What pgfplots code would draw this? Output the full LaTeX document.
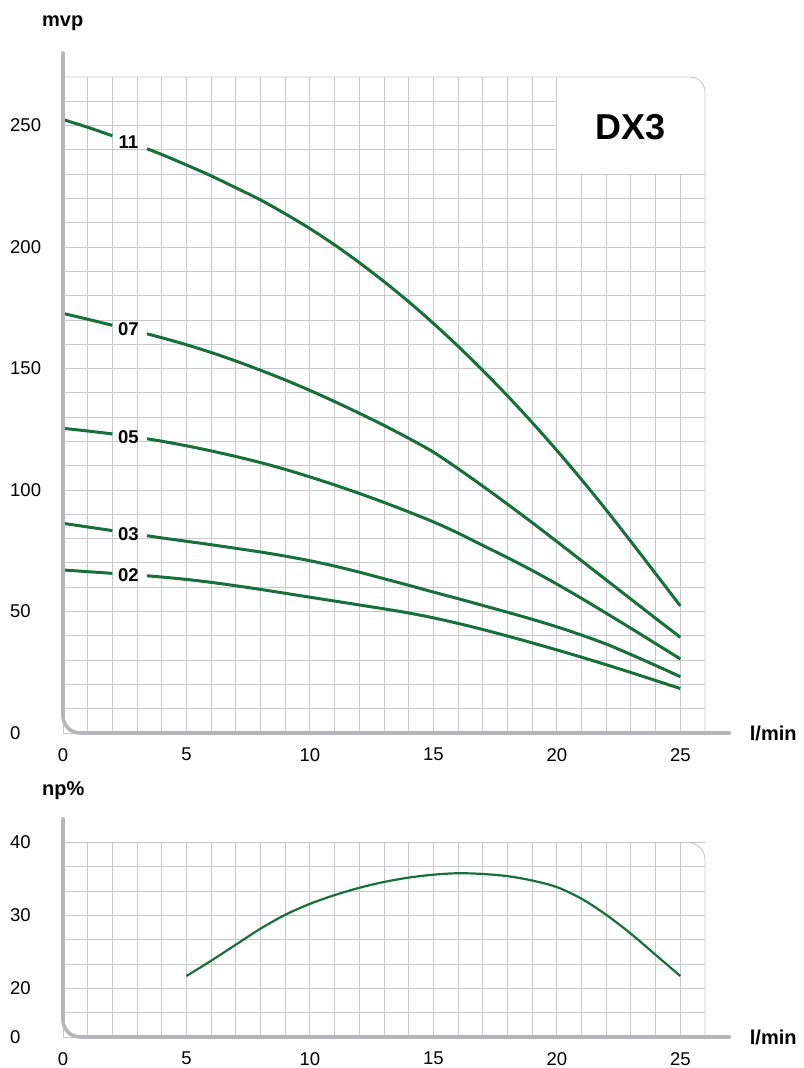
\documentclass[border=0pt]{standalone}
\usepackage{fontspec}
\setmainfont{Liberation Sans}
\usepackage{pgfplots}
\pgfplotsset{compat=1.18}

\definecolor{gridgray}{HTML}{C8C8CC}
\definecolor{axisgray}{HTML}{B6B6BA}
\definecolor{curvegreen}{HTML}{17703A}

\pgfplotsset{
  pumpaxis/.style={
    scale only axis,
    width=642bp,
    xmin=0, xmax=26,
    axis line style={draw=none},
    tick style={draw=none},
    xtick={0,5,...,25},
    minor xtick={1,...,25},
    grid=both,
    major grid style={gridgray, line width=0.9bp},
    minor grid style={gridgray, line width=0.9bp},
    clip=false,
    /pgf/number format/assume math mode=true,
    ticklabel style={font=\fontsize{18.5bp}{20bp}\selectfont, inner sep=0pt},
    xticklabel style={anchor=north, yshift=-15bp},
    yticklabel style={anchor=west, xshift=-53bp},
    unbounded coords=jump,
  },
  curve/.style={curvegreen, line width=3bp, smooth, tension=0.5, no markers},
}
\tikzset{
  curvelabel/.style={font=\bfseries\fontsize{18.5bp}{20bp}\selectfont, inner sep=0pt},
  unitlabel/.style={font=\bfseries\fontsize{20bp}{22bp}\selectfont, inner sep=0pt},
}

\begin{document}
\begin{tikzpicture}
\useasboundingbox (-63bp,-335bp) rectangle (741bp,733bp);

% head curves
\begin{axis}[pumpaxis,
  at={(0,0)}, anchor=south west,
  height=656bp,
  ymin=0, ymax=270,
  ytick={0,50,...,250},
  minor ytick={10,20,...,260},
]
% model 11
\addplot[curve] coordinates {
 (0,252.5) (1,249.3) (2,245.8) (2.7,nan) (3.4,240.5) (4,238.1) (5,233.8) (6,229.3)
 (7,224.4) (8,219.4) (9,213.7) (10,207.6) (11,200.9) (12,193.6) (13,185.8)
 (14,177.5) (15,168.6) (16,159.2) (17,149.2) (18,138.8) (19,127.8) (20,116.3)
 (21,104.3) (22,91.8) (23,78.8) (24,65.6) (25,52.3)
};
% model 07
\addplot[curve] coordinates {
 (0,172.7) (1,170.3) (2,167.8) (2.7,nan) (3.4,164.3) (4,162.7) (5,159.8) (6,156.6)
 (7,153.1) (8,149.3) (9,145.3) (10,141) (11,136.4) (12,131.6) (13,126.6)
 (14,121.3) (15,115.6) (16,108.8) (17,101.6) (18,94.2) (19,86.6) (20,78.8)
 (21,70.9) (22,63) (23,55.1) (24,47.2) (25,39.4)
};
% model 05
\addplot[curve] coordinates {
 (0,125.4) (1,124.3) (2,123.1) (2.7,nan) (3.4,121.1) (4,120.1) (5,118.2) (6,116.1)
 (7,113.8) (8,111.3) (9,108.5) (10,105.4) (11,102.1) (12,98.6) (13,94.9)
 (14,91) (15,86.9) (16,82.3) (17,77.2) (18,72.2) (19,66.9) (20,61.3)
 (21,55.4) (22,49.3) (23,43.1) (24,36.8) (25,30.5)
};
% model 03
\addplot[curve] coordinates {
 (0,86.3) (1,84.8) (2,83.3) (2.7,nan) (3.4,81.2) (4,80.3) (5,78.9) (6,77.5)
 (7,76) (8,74.5) (9,72.8) (10,70.9) (11,68.7) (12,66.2) (13,63.5)
 (14,60.8) (15,58) (16,55.3) (17,52.5) (18,49.7) (19,46.8) (20,43.7)
 (21,40.3) (22,36.6) (23,32.3) (24,27.8) (25,23.2)
};
% model 02
\addplot[curve] coordinates {
 (0,67.1) (1,66.4) (2,65.7) (2.7,nan) (3.4,64.7) (4,64.2) (5,63.2) (6,62)
 (7,60.6) (8,59.1) (9,57.5) (10,55.9) (11,54.3) (12,52.7) (13,51.1)
 (14,49.4) (15,47.4) (16,45.1) (17,42.6) (18,39.9) (19,37.1) (20,34.2)
 (21,31.2) (22,28.1) (23,24.9) (24,21.6) (25,18.3)
};

\node[curvelabel] at (axis cs:2.65,243.3) {11};
\node[curvelabel] at (axis cs:2.65,166.1) {07};
\node[curvelabel] at (axis cs:2.65,121.7) {05};
\node[curvelabel] at (axis cs:2.65,81.8) {03};
\node[curvelabel] at (axis cs:2.65,65) {02};

% model box
\fill[white] (axis cs:20,230) rectangle (axis cs:26,270);
\draw[gridgray, line width=0.9bp] (axis cs:20,270) -- (axis cs:20,230) -- (axis cs:26,230);
\node[font=\bfseries\fontsize{36bp}{38bp}\selectfont, inner sep=0pt] at (axis cs:23,249.5) {DX3};

% frame and axis lines
\draw[gridgray, line width=0.9bp, rounded corners=15bp] (axis cs:0,270) -- (axis cs:26,270) -- (axis cs:26,0);
\draw[axisgray, line width=3.6bp, line cap=round, rounded corners=17bp]
  (axis cs:0,280) -- (axis cs:0,0) -- (axis cs:27,0);
\node[unitlabel, anchor=base west] at ([xshift=-21bp, yshift=26bp]axis cs:0,280) {mvp};
\node[unitlabel, anchor=west] at ([xshift=20bp]axis cs:27,0) {l/min};
\end{axis}

% efficiency (broken scale: 0, then 20..40 at 10 per 3 cells)
\begin{axis}[pumpaxis,
  at={(0,-304bp)}, anchor=south west,
  height=194.4bp,
  ymin=0, ymax=8,
  ytick={0,2,5,8},
  yticklabels={0,20,30,40},
  minor ytick={1,3,4,6,7},
]
\addplot[curvegreen, line width=2.2bp, smooth, tension=0.5, no markers]
  table[x=q, y expr={2+0.3*(\thisrow{eff}-20)}] {
q eff
5 21.7
6 23.8
7 26.0
8 28.2
9 30.1
10 31.6
11 32.8
12 33.8
13 34.6
14 35.2
15 35.6
16 35.8
17 35.7
18 35.4
19 34.8
20 33.9
21 32.3
22 30.1
23 27.5
24 24.6
25 21.7
};
\draw[gridgray, line width=0.9bp, rounded corners=17bp] (axis cs:0,8) -- (axis cs:26,8) -- (axis cs:26,0);
\draw[axisgray, line width=3.6bp, line cap=round, rounded corners=17bp]
  (axis cs:0,9) -- (axis cs:0,0) -- (axis cs:27,0);
\node[unitlabel, anchor=base west] at ([xshift=-21bp, yshift=23bp]axis cs:0,9) {np\%};
\node[unitlabel, anchor=west] at ([xshift=20bp]axis cs:27,0) {l/min};
\end{axis}
\end{tikzpicture}
\end{document}
